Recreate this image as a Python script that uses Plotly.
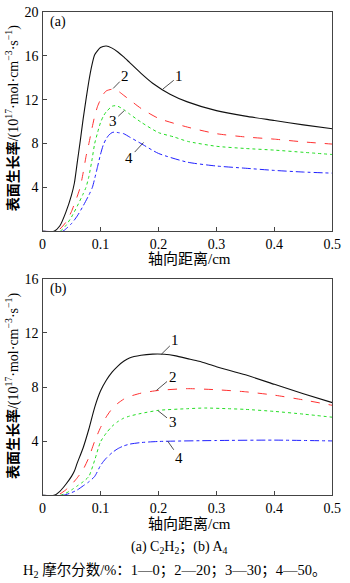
import plotly.graph_objects as go

# ---------------- Data: panel (a) C2H2 ----------------
a1_x = [0, 0.02, 0.03, 0.04, 0.05, 0.055, 0.06, 0.065, 0.07, 0.075, 0.08, 0.085, 0.09, 0.1, 0.11, 0.12, 0.13, 0.14, 0.15, 0.17, 0.19, 0.22, 0.25, 0.3, 0.35, 0.4, 0.45, 0.5]
a1_y = [0, 0, 0.5, 1.7, 3.3, 4.4, 6.3, 8.2, 10.2, 12.0, 13.7, 15.1, 16.1, 16.75, 16.9, 16.7, 16.35, 15.9, 15.4, 14.4, 13.5, 12.5, 11.8, 11.0, 10.5, 10.1, 9.7, 9.35]

a2_x = [0, 0.025, 0.03, 0.04, 0.05, 0.055, 0.06, 0.065, 0.07, 0.075, 0.08, 0.085, 0.09, 0.095, 0.1, 0.105, 0.11, 0.12, 0.13, 0.14, 0.15, 0.17, 0.2, 0.25, 0.3, 0.35, 0.4, 0.45, 0.5]
a2_y = [0, 0, 0.2, 0.8, 1.8, 2.5, 3.2, 4.0, 5.3, 6.8, 8.0, 9.3, 10.5, 11.4, 12.0, 12.5, 12.8, 12.95, 12.8, 12.4, 12.0, 11.2, 10.3, 9.5, 8.9, 8.6, 8.4, 8.15, 7.95]

a3_x = [0, 0.03, 0.04, 0.05, 0.06, 0.07, 0.075, 0.08, 0.085, 0.09, 0.095, 0.1, 0.105, 0.11, 0.12, 0.125, 0.13, 0.14, 0.15, 0.17, 0.2, 0.227, 0.25, 0.3, 0.35, 0.4, 0.45, 0.5]
a3_y = [0, 0, 0.5, 1.3, 2.3, 3.4, 4.0, 5.0, 6.4, 8.0, 9.0, 9.9, 10.5, 10.9, 11.4, 11.45, 11.4, 11.1, 10.7, 9.95, 9.0, 8.6, 8.2, 7.75, 7.55, 7.4, 7.2, 7.0]

a4_x = [0, 0.035, 0.04, 0.05, 0.06, 0.07, 0.08, 0.086, 0.09, 0.095, 0.1, 0.105, 0.11, 0.115, 0.12, 0.125, 0.13, 0.14, 0.15, 0.17, 0.2, 0.25, 0.3, 0.35, 0.4, 0.45, 0.5]
a4_y = [0, 0, 0.2, 0.7, 1.4, 2.3, 3.3, 4.0, 4.8, 5.9, 7.0, 7.9, 8.45, 8.8, 9.0, 9.05, 9.0, 8.9, 8.6, 8.0, 7.1, 6.3, 5.95, 5.75, 5.55, 5.4, 5.3]

# ---------------- Data: panel (b) A4 ----------------
b1_x = [0, 0.02, 0.03, 0.04, 0.05, 0.055, 0.06, 0.07, 0.08, 0.09, 0.1, 0.11, 0.12, 0.13, 0.14, 0.15, 0.17, 0.19, 0.21, 0.23, 0.25, 0.27, 0.3, 0.35, 0.4, 0.45, 0.5]
b1_y = [0, 0, 0.3, 0.8, 1.4, 1.8, 2.4, 3.5, 4.9, 6.5, 7.7, 8.5, 9.1, 9.55, 9.9, 10.15, 10.35, 10.43, 10.42, 10.3, 10.1, 9.9, 9.5, 8.9, 8.2, 7.5, 6.85]

b2_x = [0, 0.025, 0.03, 0.04, 0.05, 0.06, 0.07, 0.08, 0.09, 0.1, 0.11, 0.12, 0.13, 0.14, 0.15, 0.17, 0.2, 0.25, 0.3, 0.35, 0.4, 0.45, 0.5]
b2_y = [0, 0, 0.1, 0.4, 0.8, 1.3, 1.9, 2.8, 4.0, 5.0, 5.8, 6.4, 6.8, 7.1, 7.3, 7.55, 7.75, 7.88, 7.8, 7.65, 7.4, 7.05, 6.65]

b3_x = [0, 0.03, 0.04, 0.05, 0.06, 0.07, 0.08, 0.09, 0.1, 0.11, 0.12, 0.13, 0.14, 0.15, 0.17, 0.2, 0.25, 0.28, 0.32, 0.35, 0.4, 0.45, 0.5]
b3_y = [0, 0, 0.15, 0.4, 0.7, 1.0, 1.4, 2.6, 3.95, 4.6, 5.1, 5.45, 5.7, 5.85, 6.05, 6.28, 6.4, 6.45, 6.4, 6.35, 6.2, 6.0, 5.77]

b4_x = [0, 0.035, 0.05, 0.06, 0.07, 0.08, 0.09, 0.1, 0.105, 0.11, 0.12, 0.13, 0.14, 0.15, 0.17, 0.2, 0.3, 0.4, 0.5]
b4_y = [0, 0, 0.2, 0.4, 0.7, 1.0, 1.4, 2.2, 2.5, 2.75, 3.15, 3.45, 3.65, 3.78, 3.9, 3.98, 4.05, 4.08, 4.02]

x_ticks = [0, 0.1, 0.2, 0.3, 0.4, 0.5]
x_ticktext = ["0", "0.1", "0.2", "0.3", "0.4", "0.5"]
ya_ticks = [4, 8, 12, 16, 20]
yb_ticks = [4, 8, 12, 16]

curve_labels = ["1", "2", "3", "4"]
# label anchor (point on curve) and label position, panel (a) and (b)
a_lab_pt = [(0.2076, 12.97), (0.1218, 13.02), (0.1412, 11.01), (0.1744, 8.10)]
a_lab_tx = [(0.2359, 14.17), (0.1429, 14.17), (0.1213, 10.02), (0.1495, 6.68)]
b_lab_pt = [(0.205, 10.42), (0.1965, 7.75), (0.1993, 6.25), (0.216, 4.0)]
b_lab_tx = [(0.2292, 11.44), (0.2243, 8.75), (0.2243, 5.40), (0.2359, 2.79)]

styles = [
    dict(color="#111111", dash="solid", width=1.1),
    dict(color="#ff3030", dash="dash", width=1),
    dict(color="#22dd22", dash="dot", width=1),
    dict(color="#2020ff", dash="dashdot", width=1),
]

SERIF = "Liberation Serif, Times New Roman, Noto Sans CJK SC"

fig = go.Figure()
for (xs, ys), st in zip([(a1_x, a1_y), (a2_x, a2_y), (a3_x, a3_y), (a4_x, a4_y)], styles):
    fig.add_trace(go.Scatter(x=xs, y=ys, mode="lines", xaxis="x", yaxis="y",
                             line=dict(color=st["color"], dash=st["dash"], width=st["width"], shape="spline", smoothing=0.6),
                             showlegend=False, hoverinfo="skip"))
for (xs, ys), st in zip([(b1_x, b1_y), (b2_x, b2_y), (b3_x, b3_y), (b4_x, b4_y)], styles):
    fig.add_trace(go.Scatter(x=xs, y=ys, mode="lines", xaxis="x2", yaxis="y2",
                             line=dict(color=st["color"], dash=st["dash"], width=st["width"], shape="spline", smoothing=0.6),
                             showlegend=False, hoverinfo="skip"))

xdom = [40 / 350, 341 / 350]
ax_common = dict(showline=True, linecolor="#444444", linewidth=1.3, mirror=True,
                 ticks="inside", ticklen=4, tickwidth=1, tickcolor="#444444",
                 showgrid=False, zeroline=False,
                 tickfont=dict(family=SERIF, size=14, color="black"))

fig.update_layout(
    width=350, height=583,
    margin=dict(l=0, r=0, t=0, b=0),
    paper_bgcolor="white", plot_bgcolor="white",
    xaxis=dict(domain=xdom, range=[0, 0.5], anchor="y", tickvals=x_ticks, ticktext=x_ticktext, **ax_common),
    yaxis=dict(domain=[1 - 227 / 583, 1 - 5 / 583], range=[0, 20], anchor="x", tickvals=ya_ticks, **ax_common),
    xaxis2=dict(domain=xdom, range=[0, 0.5], anchor="y2", tickvals=x_ticks, ticktext=x_ticktext, **ax_common),
    yaxis2=dict(domain=[1 - 494.3 / 583, 1 - 275 / 583], range=[0, 16], anchor="x2", tickvals=yb_ticks, **ax_common),
)

ann = []
for lab, pt, tx in zip(curve_labels, a_lab_pt, a_lab_tx):
    ann.append(dict(x=pt[0], y=pt[1], ax=tx[0], ay=tx[1], xref="x", yref="y", axref="x", ayref="y",
                    text=lab, showarrow=True, arrowhead=0, arrowwidth=0.8, arrowcolor="#222222",
                    standoff=0, font=dict(family=SERIF, size=15, color="black")))
for lab, pt, tx in zip(curve_labels, b_lab_pt, b_lab_tx):
    ann.append(dict(x=pt[0], y=pt[1], ax=tx[0], ay=tx[1], xref="x2", yref="y2", axref="x2", ayref="y2",
                    text=lab, showarrow=True, arrowhead=0, arrowwidth=0.8, arrowcolor="#222222",
                    standoff=0, font=dict(family=SERIF, size=15, color="black")))

def ptext(text, xpx, ypx, size=14, angle=0):
    return dict(text=text, x=xpx / 350, y=1 - ypx / 583, xref="paper", yref="paper",
                showarrow=False, textangle=angle, xanchor="center", yanchor="middle",
                font=dict(family=SERIF, size=size, color="black"))

ytitle = "<b>表面生长率</b>/(10<sup>17</sup>·mol·cm<sup>−3</sup>·s<sup>−1</sup>)"
ann += [
    ptext("(a)", 56.5, 15, 14),
    ptext("(b)", 56.5, 285, 14),
    ptext(ytitle, 9, 112, 14, -90),
    ptext(ytitle, 9, 383, 14, -90),
    ptext("轴向距离/cm", 193, 255, 15),
    ptext("轴向距离/cm", 193, 523, 15),
    ptext("(a) C<sub>2</sub>H<sub>2</sub>；(b) A<sub>4</sub>", 182, 547, 14),
    ptext("H<sub>2</sub> 摩尔分数/%：1—0；2—20；3—30；4—50。", 178, 570, 14.5),
]
fig.update_layout(annotations=ann)

fig.write_html("out.html")
